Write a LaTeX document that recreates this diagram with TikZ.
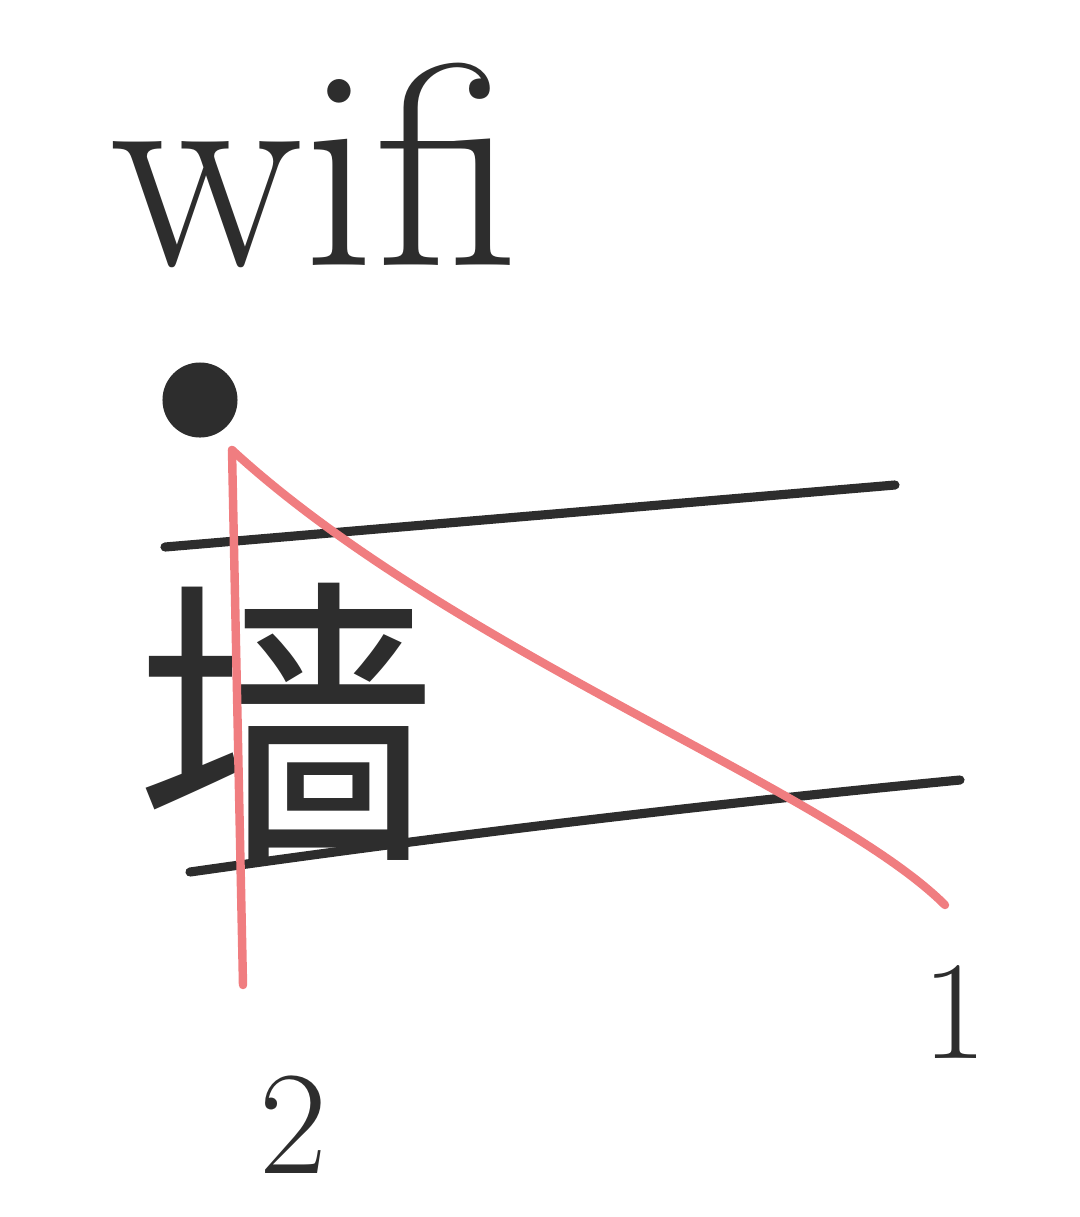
\documentclass[tikz,border=0pt]{standalone}
\usepackage{fontspec}
\newfontfamily\cjk{Noto Sans CJK SC}
\usetikzlibrary{positioning}
\definecolor{pencil}{RGB}{45,45,45}
\definecolor{signal}{RGB}{240,125,128}
\tikzset{
  wall/.style={draw=pencil, line width=2.6pt, line cap=round},
  ray/.style={draw=signal, line width=2.4pt, line cap=round},
  hand/.style={text=pencil, inner sep=0pt}
}
\begin{document}
\begin{tikzpicture}[x=0.01cm,y=-0.01cm]
\useasboundingbox (0,0) rectangle (1080,1217);
% label and source
\node[hand, font=\fontsize{82}{82}\selectfont] (wifi) at (315,165) {wifi};
\node[circle, fill=pencil, minimum size=0.75cm, inner sep=0pt] (src) at (200,400) {};
\coordinate (emit) at (232,450);
% walls
\draw[wall] (165,547) -- (895,485);
\draw[wall] (190,872) .. controls (450,835) and (700,805) .. (960,780);
\node[hand, font=\cjk\fontsize{86}{86}\selectfont] (qiang) at (287,722) {墙};
% rays
\coordinate (p1) at (945,905);
\coordinate (p2) at (243,985);
\draw[ray] (emit) -- (p2);
\draw[ray] (emit) .. controls (450,650) and (830,790) .. (p1);
\node[hand, font=\fontsize{40}{40}\selectfont, below=0.6cm of p1, xshift=0.1cm] (one) {1};
\node[hand, font=\fontsize{42}{42}\selectfont, below=0.9cm of p2, xshift=0.5cm] (two) {2};
\end{tikzpicture}
\end{document}
